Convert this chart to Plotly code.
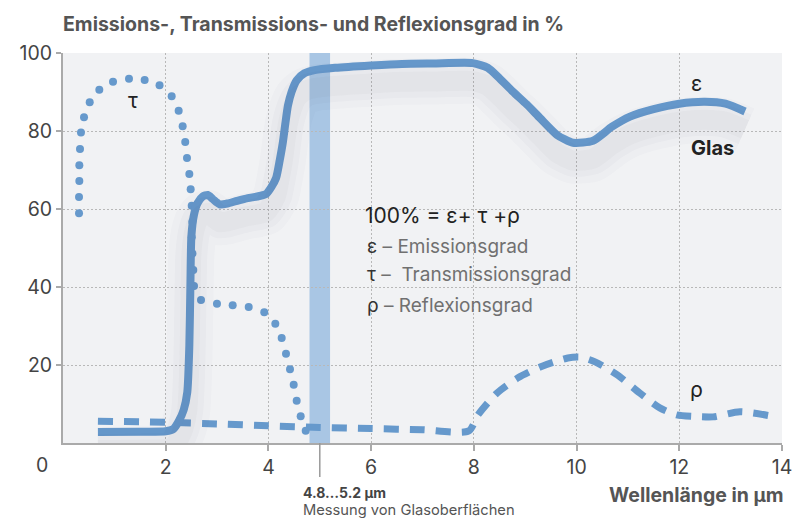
import plotly.graph_objects as go

# ---------------- data ----------------
eps_x = [0.68, 1.5, 2.0, 2.15, 2.25, 2.35, 2.42, 2.46, 2.48, 2.5, 2.55, 2.62, 2.72, 2.82, 2.92,
         3.05, 3.2, 3.39, 3.6, 3.78, 3.95, 4.05, 4.15, 4.22, 4.28, 4.33, 4.38, 4.45, 4.55, 4.7,
         4.9, 5.3, 6.0, 6.6, 7.2, 7.98, 8.27, 8.5, 8.76, 9.03, 9.29, 9.62, 9.93, 10.32, 10.69,
         11.04, 11.5, 12.0, 12.5, 12.9, 13.28]
eps_y = [2.8, 2.9, 3.0, 3.6, 5.5, 8.5, 13, 25, 40, 53, 58.5, 61.5, 63.2, 63.6, 62.5,
         61.2, 61.4, 62.1, 62.8, 63.2, 63.8, 65.5, 68, 72.5, 77, 82, 86.5, 90, 93, 94.8,
         95.6, 96.2, 96.8, 97.2, 97.3, 97.4, 96.2, 93.5, 90.1, 86.8, 83.3, 79, 77, 77.5, 81.1,
         83.7, 85.6, 87.0, 87.5, 87.0, 85.0]

tau_x = [0.312, 0.312, 0.318, 0.318, 0.331, 0.35, 0.409, 0.52, 0.707, 0.974, 1.285, 1.59, 1.88,
         2.116, 2.252, 2.33, 2.38, 2.414, 2.46, 2.486, 2.506, 2.518, 2.506, 2.52, 2.537, 2.551,
         2.687, 2.998, 3.304, 3.616, 3.919, 4.134, 4.258, 4.342, 4.42, 4.492, 4.55, 4.628, 4.726]
tau_y = [58.9, 63.1, 67.2, 71.2, 75.4, 79.6, 83.5, 87.4, 90.6, 92.6, 93.4, 93.1, 91.7,
         88.9, 85.2, 81.2, 77.2, 73.1, 69.0, 65.05, 60.85, 56.74, 52.74, 48.6, 44.36, 40.26,
         36.67, 35.72, 35.31, 34.87, 33.51, 30.59, 26.92, 22.9, 18.9, 14.95, 10.85, 6.85, 3.15]

rho_x = [0.68, 2.0, 3.0, 4.0, 5.0, 6.0, 7.0, 7.9, 8.08, 8.45, 8.86, 9.33, 9.83, 10.07, 10.36,
         10.8, 11.23, 11.62, 11.95, 12.3, 12.66, 13.18, 13.8]
rho_y = [5.6, 5.3, 4.9, 4.4, 4.0, 3.7, 3.4, 3.1, 7.2, 12.8, 16.7, 19.7, 21.8, 22.0, 20.8,
         17.4, 12.8, 9.0, 7.2, 6.8, 6.7, 8.0, 6.9]

band = [4.8, 5.2]
x_ticks = [2, 4, 6, 8, 10, 12, 14]
y_ticks = [20, 40, 60, 80, 100]

BLUE = "#6699cc"
FONT = "Inter"

W, H = 803, 518
ML, MR, MT, MB = 63, 21, 53, 75
PW, PH = W - ML - MR, H - MT - MB

fig = go.Figure()

# soft shadow under the emission curve (same data on an overlay axis, shifted down)
for w, a in [(46, 0.018), (32, 0.022), (20, 0.026)]:
    fig.add_trace(go.Scatter(x=eps_x, y=eps_y, mode="lines", yaxis="y2",
                             line=dict(color=f"rgba(60,60,90,{a})", width=w, shape="spline", smoothing=0.6),
                             hoverinfo="skip", showlegend=False))

fig.add_trace(go.Scatter(x=rho_x, y=rho_y, mode="lines",
                         line=dict(color=BLUE, width=7, dash="15px,11px", shape="spline", smoothing=0.7),
                         showlegend=False))
fig.add_trace(go.Scatter(x=tau_x, y=tau_y, mode="markers",
                         marker=dict(color=BLUE, size=8), showlegend=False))
fig.add_trace(go.Scatter(x=eps_x, y=eps_y, mode="lines",
                         line=dict(color=BLUE, width=8, shape="spline", smoothing=0.6),
                         showlegend=False))

# measurement band
fig.add_shape(type="rect", xref="x", yref="y", x0=band[0], x1=band[1], y0=0, y1=100,
              fillcolor="#a9c6e4", line=dict(width=0), layer="below")
fig.add_shape(type="line", xref="x", yref="paper", x0=sum(band) / 2, x1=sum(band) / 2,
              y0=0, y1=-34 / PH, line=dict(color="#999999", width=1.5))

ann = []
def add(text, x, y, size, color, xref="x", yref="y", xanchor="center", yanchor="middle", bold=False):
    ann.append(dict(text=f"<b>{text}</b>" if bold else text, x=x, y=y, xref=xref, yref=yref,
                    xanchor=xanchor, yanchor=yanchor, showarrow=False,
                    font=dict(family=FONT, size=size, color=color)))

add("τ", 1.36, 87.9, 21, "#222222")
add("ε", 12.34, 92.1, 21, "#222222")
add("ρ", 12.34, 13.6, 21, "#222222")
add("Glas", 12.65, 75.6, 20, "#222222", bold=True)
add("100% = ε+ τ +ρ", 5.85, 58.3, 21, "#222222", xanchor="left")
add("<span style='color:#333'>ε</span> – Emissionsgrad", 5.88, 50.3, 19, "#707070", xanchor="left")
add("<span style='color:#333'>τ</span> –  Transmissionsgrad", 5.88, 43.1, 19, "#707070", xanchor="left")
add("<span style='color:#333'>ρ</span> – Reflexionsgrad", 5.88, 35.2, 19, "#707070", xanchor="left")

# paper-pixel helpers (paper coords are relative to the plot area)
def px(xp):
    return (xp - ML) / PW
def py(yp):
    return (H - MB - yp) / PH

add("Emissions-, Transmissions- und Reflexionsgrad in %", px(61), py(24), 19.5, "#555555",
    xref="paper", yref="paper", xanchor="left", bold=True)
add("Wellenlänge in µm", px(786), py(495), 19.5, "#555555", xref="paper", yref="paper",
    xanchor="right", bold=True)
add("4.8…5.2 µm", px(301), py(492), 14, "#444444", xref="paper", yref="paper",
    xanchor="left", bold=True)
add("Messung von Glasoberflächen", px(301), py(510), 14.7, "#555555", xref="paper", yref="paper",
    xanchor="left")
add("0", px(42), py(465), 19.5, "#444444", xref="paper", yref="paper")

fig.update_layout(
    width=W, height=H,
    margin=dict(l=ML, r=MR, t=MT, b=MB),
    paper_bgcolor="white", plot_bgcolor="#f1f2f4",
    font=dict(family=FONT, color="#444444"),
    annotations=ann,
    xaxis=dict(range=[0, 14], tickvals=x_ticks, ticks="outside", ticklen=6, tickcolor="#aaaaaa",
               tickwidth=1.5, showline=True, linecolor="#aaaaaa", linewidth=2,
               showgrid=True, gridcolor="#b8b8b8", griddash="2px,2px", gridwidth=1,
               tickfont=dict(size=19.5, color="#444444"), zeroline=False, fixedrange=True),
    yaxis=dict(range=[0, 100], tickvals=y_ticks, ticks="outside", ticklen=5, tickcolor="#aaaaaa",
               tickwidth=1.5, showline=True, linecolor="#aaaaaa", linewidth=2,
               showgrid=True, gridcolor="#b8b8b8", griddash="2px,2px", gridwidth=1,
               tickfont=dict(size=19.5, color="#444444"), zeroline=False),
    yaxis2=dict(range=[4.6, 104.6], overlaying="y", visible=False),
)

fig.write_html("out.html", config={"displayModeBar": False},
               post_script="document.body.style.margin='0';document.body.style.overflow='hidden';")
